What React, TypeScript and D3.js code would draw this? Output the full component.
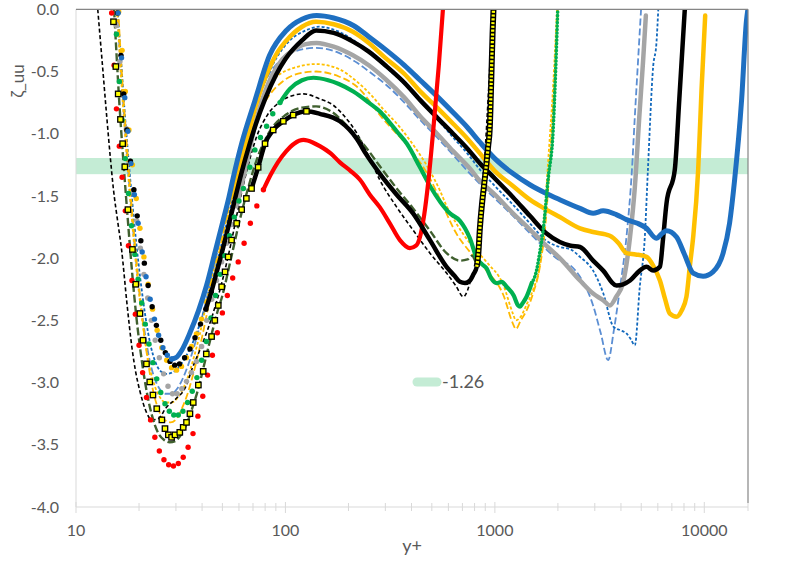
import React from "react";
import * as d3 from "d3";

type P = [number, number];

// ---- axis / label data ----
const yTickValues = [0, -0.5, -1, -1.5, -2, -2.5, -3, -3.5, -4];
const yTickLabels = ["0.0", "-0.5", "-1.0", "-1.5", "-2.0", "-2.5", "-3.0", "-3.5", "-4.0"];
const xMajorTicks = [10, 100, 1000, 10000];
const xTickLabels = ["10", "100", "1000", "10000"];
const bandValue = -1.26;
const bandHalfWidth = 0.065;
const legendLabel = "-1.26";
const xTitle = "y+";
const yTitle = "ζ_uu";

// ---- thick (dense-marker) series ----
const blueThick: P[] = [[15.9,-0.03],[16.5,-0.39],[17.1,-0.71],[17.7,-0.98],[18.3,-1.24],[19.0,-1.49],[19.8,-1.72],[20.7,-1.95],[21.6,-2.15],[22.6,-2.33],[23.7,-2.49],[24.8,-2.62],[26.0,-2.72],[27.3,-2.78],[28.6,-2.81],[30,-2.80],[32,-2.74],[35,-2.60],[38.5,-2.42],[42,-2.22],[46,-1.96],[50,-1.72],[53.4,-1.53],[56.4,-1.35],[62,-1.07],[71.6,-0.73],[84,-0.37],[101,-0.17],[120,-0.08],[141,-0.05],[170,-0.07],[211,-0.13],[250,-0.22],[304,-0.33],[370,-0.45],[440,-0.57],[530,-0.70],[632,-0.83],[740,-0.95],[850,-1.07],[1000,-1.20],[1220,-1.32],[1470,-1.41],[1760,-1.48],[2042,-1.53],[2550,-1.60],[2945,-1.64],[3290,-1.62],[3800,-1.65],[4250,-1.69],[4800,-1.72],[5300,-1.76],[5900,-1.84],[6300,-1.80],[6600,-1.78],[7370,-1.83],[8000,-1.96],[8850,-2.12],[9870,-2.145],[11000,-2.11],[12300,-1.96],[13200,-1.72],[13960,-1.37],[15070,-0.73],[15900,-0.09],[16150,0]];

const orangeThick: P[] = [[16.0,-0.02],[16.6,-0.33],[17.2,-0.66],[17.9,-0.97],[18.6,-1.25],[19.4,-1.52],[20.2,-1.76],[21.1,-1.99],[22.1,-2.21],[23.2,-2.41],[24.4,-2.58],[25.7,-2.72],[27.1,-2.82],[28.6,-2.88],[30.2,-2.90],[31.9,-2.87],[33.7,-2.80],[35.6,-2.71],[37.6,-2.61],[39.7,-2.49],[42,-2.35],[44.4,-2.19],[47,-2.02],[50,-1.84],[53,-1.67],[56,-1.50],[59,-1.33],[62,-1.20],[67,-0.98],[72,-0.78],[78,-0.60],[85,-0.45],[92,-0.34],[100,-0.26],[120,-0.14],[140,-0.10],[170,-0.12],[210,-0.18],[250,-0.27],[300,-0.39],[370,-0.52],[440,-0.66],[530,-0.79],[632,-0.92],[740,-1.04],[850,-1.16],[1000,-1.30],[1220,-1.42],[1470,-1.53],[1760,-1.61],[2042,-1.67],[2550,-1.76],[2945,-1.79],[3540,-1.82],[3900,-1.88],[4250,-1.96],[4700,-1.97],[5300,-1.99],[5700,-2.06],[6140,-2.18],[6500,-2.33],[6840,-2.445],[7370,-2.47],[7800,-2.42],[8220,-2.31],[8550,-2.05],[8850,-1.83],[9350,-1.29],[9700,-0.65],[10100,-0.05]];

const blackThick: P[] = [[15.8,-0.03],[16.4,-0.37],[16.9,-0.68],[17.5,-0.97],[18.2,-1.22],[18.9,-1.45],[19.6,-1.66],[20.4,-1.86],[21.2,-2.04],[22.1,-2.22],[23.1,-2.39],[24.2,-2.54],[25.4,-2.66],[26.7,-2.76],[28.1,-2.83],[29.6,-2.86],[31.2,-2.85],[33,-2.80],[35,-2.73],[37,-2.64],[39.3,-2.53],[41.7,-2.41],[44.3,-2.27],[47,-2.11],[50,-1.94],[53,-1.77],[56,-1.60],[62,-1.30],[67,-1.10],[72,-0.93],[80,-0.72],[90,-0.53],[100,-0.40],[120,-0.25],[140,-0.17],[170,-0.19],[210,-0.26],[250,-0.34],[300,-0.45],[370,-0.59],[440,-0.73],[530,-0.87],[632,-1.00],[740,-1.12],[850,-1.24],[1000,-1.36],[1220,-1.51],[1470,-1.66],[1760,-1.80],[2042,-1.87],[2300,-1.90],[2550,-1.91],[2945,-2.02],[3290,-2.10],[3810,-2.22],[4100,-2.21],[4420,-2.18],[4920,-2.10],[5300,-2.07],[5700,-2.10],[6140,-2.07],[6350,-1.85],[6600,-1.56],[7230,-1.29],[7600,-0.72],[8070,0]];

const greyThick: P[] = [[15.6,-0.13],[16.2,-0.42],[16.8,-0.69],[17.4,-0.96],[18.1,-1.22],[18.8,-1.47],[19.5,-1.70],[20.3,-1.92],[21.1,-2.13],[22.0,-2.32],[22.9,-2.50],[23.9,-2.66],[25.0,-2.80],[26.2,-2.93],[27.5,-3.03],[28.9,-3.09],[30.4,-3.09],[32.0,-3.05],[33.7,-2.99],[35.6,-2.92],[37.6,-2.83],[39.8,-2.71],[42.1,-2.50],[44.5,-2.33],[46.9,-2.18],[49.6,-2.03],[52.4,-1.88],[55.4,-1.73],[58.5,-1.58],[62,-1.40],[65,-1.25],[69,-1.05],[73,-0.87],[80,-0.66],[87,-0.52],[97,-0.40],[108.7,-0.33],[125,-0.28],[141,-0.27],[170,-0.30],[210,-0.37],[250,-0.45],[300,-0.56],[370,-0.71],[440,-0.86],[530,-1.00],[632,-1.14],[760,-1.28],[850,-1.38],[1000,-1.49],[1220,-1.64],[1470,-1.77],[1760,-1.90],[2042,-2.00],[2550,-2.18],[2945,-2.285],[3300,-2.34],[3540,-2.38],[3800,-2.31],[4090,-2.20],[4250,-2.05],[4420,-1.83],[4660,-1.43],[4900,-0.85],[5100,-0.42],[5260,-0.05]];

const greenThick: P[] = [[15.6,-0.20],[16.1,-0.58],[16.6,-0.89],[17.2,-1.20],[17.8,-1.48],[18.4,-1.74],[19.1,-1.97],[19.8,-2.17],[20.6,-2.36],[21.4,-2.53],[22.3,-2.69],[23.3,-2.84],[24.3,-2.97],[25.4,-3.08],[26.6,-3.17],[27.9,-3.23],[29.3,-3.26],[30.8,-3.26],[32.4,-3.23],[34.1,-3.16],[35.9,-3.07],[37.8,-2.96],[39.8,-2.82],[41.9,-2.67],[44.1,-2.48],[46.4,-2.30],[48.8,-2.13],[51.4,-1.98],[54.1,-1.82],[57,-1.67],[60,-1.54],[63,-1.44],[67.6,-1.27],[71.5,-1.13],[76,-1.03],[81.3,-0.94],[87,-0.84],[94.2,-0.75],[105,-0.64],[120,-0.57],[136,-0.55],[160,-0.57],[180,-0.60],[211,-0.66],[250,-0.75],[282,-0.82],[304,-0.88],[340,-0.98],[380,-1.08],[439,-1.27],[490,-1.42],[550,-1.55],[610,-1.64],[681,-1.70],[720,-1.76],[760,-1.84],[819,-2.00],[870,-2.05],[912,-2.08],[960,-2.16],[1019,-2.20],[1080,-2.19],[1137,-2.23],[1230,-2.30],[1290,-2.38],[1319,-2.39],[1360,-2.36],[1417,-2.31],[1500,-2.20],[1581,-2.10],[1640,-1.95],[1701,-1.775],[1800,-1.35],[1898,-0.97],[1950,-0.5],[1996,0]];

const redThick: P[] = [[14.8,-0.03],[15.2,-0.45],[15.6,-0.80],[16.1,-1.10],[16.6,-1.35],[17.2,-1.62],[17.8,-1.90],[18.5,-2.18],[19.2,-2.45],[20.0,-2.70],[20.8,-2.92],[21.7,-3.12],[22.7,-3.30],[23.8,-3.44],[25.0,-3.55],[26.3,-3.62],[27.7,-3.66],[29.2,-3.67],[30.8,-3.65],[32.5,-3.60],[34.3,-3.52],[36.2,-3.41],[38.2,-3.27],[40.3,-3.11],[42.5,-2.94],[44.8,-2.78],[47.3,-2.60],[50,-2.44],[52.8,-2.30],[56,-2.16],[59.5,-2.03],[63.5,-1.88],[68,-1.72],[73,-1.58],[78.5,-1.45],[85,-1.33],[92,-1.23],[101,-1.14],[110,-1.08],[122,-1.05],[135,-1.07],[146,-1.10],[165,-1.16],[182,-1.23],[205,-1.30],[227,-1.37],[253,-1.49],[282,-1.59],[315,-1.72],[352,-1.855],[393,-1.92],[420,-1.90],[439,-1.83],[460,-1.65],[480,-1.40],[508,-0.97],[540,-0.45],[565,0]];

// black line with yellow square markers
const squareSeries: P[] = [[15.1,-0.10],[15.5,-0.46],[15.9,-0.68],[16.3,-0.885],[16.7,-1.08],[17.1,-1.266],[17.7,-1.61],[18.6,-1.93],[19.3,-2.21],[20.2,-2.445],[20.9,-2.66],[21.7,-2.85],[22.5,-2.995],[23.3,-3.10],[24.3,-3.21],[25.7,-3.30],[26.6,-3.37],[27.6,-3.42],[28.6,-3.44],[29.7,-3.42],[31.3,-3.40],[32.5,-3.36],[33.7,-3.32],[35,-3.25],[36.3,-3.16],[38.4,-3.02],[40.5,-2.91],[41.9,-2.77],[44.4,-2.63],[46,-2.50],[47.8,-2.38],[49.6,-2.23],[51.5,-2.11],[53.3,-1.99],[55.3,-1.855],[58.5,-1.72],[61.8,-1.61],[65.1,-1.52],[68.9,-1.44],[74.1,-1.27],[79.9,-1.08],[87.4,-0.97],[97.7,-0.90],[108.9,-0.85],[126,-0.82],[146,-0.84],[182,-0.90],[219,-1.04],[244,-1.17],[282,-1.32],[340,-1.49],[407,-1.64],[490,-1.855],[588,-2.07],[640,-2.14],[681,-2.19],[720,-2.20],[760,-2.18],[790,-2.13],[819,-2.07],[835,-1.95],[847,-1.775],[870,-1.55],[890,-1.40],[912,-1.24],[929,-1.10],[946,-0.95],[962,-0.55],[975,-0.2],[985,0]];

// ---- thin dashed series ----
const blackDash: P[] = [[12.7,0],[13.3,-0.40],[14.0,-0.85],[14.6,-1.20],[15.1,-1.45],[15.8,-1.70],[16.5,-1.93],[17.5,-2.36],[18.5,-2.72],[19.3,-2.92],[20.2,-3.07],[21.7,-3.24],[23,-3.30],[24.7,-3.29],[27,-3.20],[30,-3.13],[33.5,-3.03],[36,-2.88],[39,-2.74],[42,-2.60],[45,-2.45],[50,-2.18],[55,-1.88],[60,-1.57],[66,-1.27],[73,-1.02],[82,-0.85],[95,-0.74],[110,-0.69],[122,-0.68],[146,-0.72],[169,-0.77],[189,-0.85],[220,-1.0],[250,-1.18],[282,-1.37],[340,-1.59],[407,-1.775],[490,-1.96],[588,-2.12],[650,-2.22],[708,-2.31],[740,-2.26],[760,-2.20],[819,-2.02],[870,-1.5],[930,-0.7],[975,0]];

const oliveDash: P[] = [[15.2,0],[15.6,-0.35],[16.1,-0.75],[16.8,-1.20],[17.6,-1.65],[18.5,-2.10],[19.5,-2.50],[20.6,-2.82],[21.8,-3.08],[23.1,-3.27],[24.6,-3.40],[26.3,-3.46],[28,-3.48],[29.8,-3.47],[31.7,-3.42],[33.8,-3.33],[36,-3.20],[38.5,-3.04],[41,-2.85],[44,-2.64],[47,-2.45],[50,-2.30],[55,-2.00],[60,-1.72],[66,-1.45],[74,-1.18],[85,-0.97],[100,-0.85],[120,-0.79],[140,-0.78],[165,-0.82],[200,-0.95],[240,-1.10],[282,-1.26],[340,-1.44],[407,-1.60],[490,-1.78],[588,-1.96],[681,-2.02],[740,-2.01],[780,-1.98],[819,-2.04],[850,-1.95]];

const orangeDashShort: P[] = [[15.7,0],[16.2,-0.40],[16.8,-0.80],[17.5,-1.20],[18.3,-1.60],[19.2,-2.00],[20.2,-2.35],[21.3,-2.65],[22.5,-2.88],[23.8,-3.03],[25.2,-3.12],[26.8,-3.16],[28.5,-3.16],[30.3,-3.13],[32.2,-3.06],[34.3,-2.95],[36.5,-2.80],[38.9,-2.62],[41.5,-2.40],[44.3,-2.17],[47.3,-1.93],[50.5,-1.70],[54,-1.47],[58,-1.25],[63,-1.02],[69,-0.84],[78,-0.70],[90,-0.55],[110,-0.47],[140,-0.44],[180,-0.48],[219,-0.58],[260,-0.70],[292,-0.80],[353,-0.95],[392,-1.05],[424,-1.13],[490,-1.30],[548,-1.46],[588,-1.58],[654,-1.72],[760,-1.88],[912,-2.03],[1100,-2.22],[1222,-2.45],[1260,-2.50],[1330,-2.47],[1420,-2.37],[1525,-2.25],[1640,-2.05],[1700,-1.80],[1800,-1.20],[1900,-0.60],[1980,0]];

const orangeDashLong: P[] = [[15.9,0],[16.4,-0.40],[17.0,-0.80],[17.8,-1.25],[18.7,-1.70],[19.7,-2.12],[20.8,-2.50],[22.0,-2.82],[23.3,-3.06],[24.8,-3.22],[26.5,-3.30],[28.3,-3.32],[30.2,-3.29],[32.2,-3.20],[34.4,-3.07],[36.7,-2.90],[39.2,-2.70],[41.9,-2.47],[44.8,-2.22],[48,-1.97],[51.5,-1.73],[55.5,-1.50],[60,-1.28],[66,-1.06],[73,-0.87],[83,-0.70],[97,-0.58],[120,-0.51],[140,-0.50],[180,-0.54],[219,-0.62],[292,-0.88],[392,-1.12],[490,-1.36],[548,-1.53],[654,-1.80],[760,-1.95],[912,-2.10],[1100,-2.30],[1222,-2.53],[1260,-2.57],[1330,-2.50],[1418,-2.42],[1525,-2.28],[1640,-2.07],[1750,-1.70],[1850,-1.10],[1950,-0.40],[2000,0]];

const blueDashShort: P[] = [[15.8,0],[16.4,-0.40],[17.0,-0.78],[17.7,-1.15],[18.5,-1.52],[19.4,-1.88],[20.4,-2.20],[21.5,-2.48],[22.7,-2.70],[24.0,-2.84],[25.4,-2.91],[27,-2.93],[28.7,-2.92],[30.5,-2.89],[32.4,-2.83],[34.5,-2.75],[36.7,-2.65],[39,-2.53],[41.5,-2.39],[44.2,-2.22],[47.1,-2.04],[50.2,-1.85],[53.5,-1.66],[57,-1.46],[61,-1.24],[66,-1.02],[72,-0.80],[80,-0.58],[90,-0.40],[105,-0.25],[125,-0.17],[145,-0.14],[180,-0.18],[220,-0.27],[260,-0.37],[304,-0.47],[370,-0.60],[440,-0.73],[530,-0.88],[632,-1.03],[740,-1.16],[850,-1.29],[1000,-1.42],[1220,-1.57],[1470,-1.72],[1760,-1.86],[2042,-1.91],[2300,-1.93],[2550,-1.99],[2945,-2.10],[3290,-2.28],[3680,-2.55],[3980,-2.58],[4250,-2.605],[4450,-2.65],[4660,-2.70],[4920,-2.23],[5200,-1.83],[5380,-1.29],[5700,-0.46],[5910,-0.27],[6030,0]];

const blueDashLong: P[] = [[15.7,0],[16.3,-0.42],[16.9,-0.82],[17.6,-1.22],[18.4,-1.62],[19.3,-2.00],[20.3,-2.34],[21.4,-2.62],[22.6,-2.84],[23.9,-2.98],[25.3,-3.06],[26.9,-3.09],[28.6,-3.09],[30.4,-3.05],[32.3,-2.97],[34.3,-2.86],[36.5,-2.72],[38.8,-2.56],[41.3,-2.38],[44,-2.18],[47,-1.97],[50.2,-1.76],[53.7,-1.55],[57.5,-1.34],[62,-1.13],[67,-0.93],[73,-0.74],[81,-0.56],[92,-0.43],[110,-0.34],[140,-0.31],[180,-0.35],[220,-0.43],[260,-0.52],[304,-0.61],[370,-0.75],[440,-0.89],[530,-1.03],[632,-1.17],[760,-1.32],[1000,-1.52],[1220,-1.66],[1470,-1.80],[1760,-1.93],[2042,-2.02],[2300,-2.06],[2550,-2.15],[2945,-2.38],[3200,-2.60],[3475,-2.82],[3700,-2.58],[3950,-2.25],[4250,-1.83],[4510,-1.30],[4660,-0.86],[4810,-0.46],[4990,0]];

const W = 789;
const H = 568;
const PLOT = { left: 76, right: 748, top: 9.3, bottom: 507 };
const FONT = "Lato, 'Open Sans', 'DejaVu Sans', sans-serif";
const TEXT = "#595959";

export default function App() {
  const x = d3.scaleLog().domain([10, 16170]).range([PLOT.left, PLOT.right]);
  const y = d3.scaleLinear().domain([-4, 0]).range([PLOT.bottom, PLOT.top]);
  const line = d3
    .line<P>()
    .x((d) => x(d[0]))
    .y((d) => y(d[1]))
    .curve(d3.curveMonotoneX);

  const minorTicks = x.ticks().filter((t) => t <= 16170);

  const thick = [
    { key: "grey", data: greyThick, color: "#A5A5A5", w: 4.5, dotsBefore: 62, lineFrom: 58.5 },
    { key: "orange", data: orangeThick, color: "#FFC000", w: 4.5, dotsBefore: 59, lineFrom: 56 },
    { key: "black", data: blackThick, color: "#000000", w: 4.5, dotsBefore: 45, lineFrom: 41.7 },
    { key: "blue", data: blueThick, color: "#1E6FC1", w: 5, dotsBefore: 30, lineFrom: 28.6 },
    { key: "green", data: greenThick, color: "#00B050", w: 4.2, dotsBefore: 100, lineFrom: 94.2, tailFrom: 1500 },
    { key: "red", data: redThick, color: "#FF0000", w: 4.2, dotsBefore: 85, lineFrom: 78.5 },
  ];

  const dashed = [
    { key: "bl", data: blueDashLong, color: "#5B8ED3", w: 1.8, dash: "7,3" },
    { key: "bs", data: blueDashShort, color: "#1168BC", w: 1.8, dash: "3,2" },
    { key: "os", data: orangeDashShort, color: "#FFC000", w: 1.8, dash: "3,2" },
    { key: "ol", data: orangeDashLong, color: "#FFB900", w: 1.8, dash: "7,3" },
    { key: "k", data: blackDash, color: "#000000", w: 1.6, dash: "4,2.5" },
    { key: "g", data: oliveDash, color: "#40602F", w: 2.4, dash: "8,3" },
  ];

  const sqHead = squareSeries.filter((d) => d[0] < 140);
  const sqBody = squareSeries.filter((d) => d[0] >= 68.9 && d[0] <= 835);
  const sqTail = squareSeries.filter((d) => d[0] >= 819);

  return (
    <svg
      width={W}
      height={H}
      viewBox={`0 0 ${W} ${H}`}
      style={{ position: "absolute", left: 0, top: 0, background: "#fff" }}
      fontFamily={FONT}
    >
      <defs>
        <clipPath id="plotClip">
          <rect x={PLOT.left} y={PLOT.top} width={PLOT.right - PLOT.left} height={PLOT.bottom - PLOT.top} />
        </clipPath>
      </defs>
      <rect x={0} y={0} width={W} height={H} fill="#fff" />

      {/* band */}
      <rect
        x={PLOT.left}
        y={y(bandValue + bandHalfWidth)}
        width={PLOT.right - PLOT.left}
        height={y(bandValue - bandHalfWidth) - y(bandValue + bandHalfWidth)}
        fill="#C4ECD5"
      />

      {/* axes frame */}
      <line x1={PLOT.left} x2={PLOT.left} y1={PLOT.top} y2={PLOT.bottom} stroke="#D9D9D9" strokeWidth={1} />
      <line x1={PLOT.left} x2={PLOT.right} y1={PLOT.bottom} y2={PLOT.bottom} stroke="#D9D9D9" strokeWidth={1.2} />
      {minorTicks.map((t) => {
        const major = xMajorTicks.includes(t);
        return (
          <line
            key={"t" + t}
            x1={x(t)}
            x2={x(t)}
            y1={PLOT.bottom - (major ? 5 : 4)}
            y2={PLOT.bottom + (major ? 6 : 4)}
            stroke="#D9D9D9"
            strokeWidth={1}
          />
        );
      })}
      <line x1={PLOT.right} x2={PLOT.right} y1={PLOT.bottom - 4} y2={PLOT.bottom + 4} stroke="#D9D9D9" strokeWidth={1} />

      {/* y tick labels */}
      {yTickValues.map((v, i) => (
        <text key={"y" + i} x={59} y={y(v)} dy="0.35em" textAnchor="end" fontSize={16} fill={TEXT}>
          {yTickLabels[i]}
        </text>
      ))}
      {/* x tick labels */}
      {xMajorTicks.map((v, i) => (
        <text key={"x" + i} x={x(v)} y={536} textAnchor="middle" fontSize={16} fill={TEXT}>
          {xTickLabels[i]}
        </text>
      ))}
      <text x={(PLOT.left + PLOT.right) / 2} y={552} textAnchor="middle" fontSize={18} fill={TEXT}>
        {xTitle}
      </text>
      <text transform="translate(24,81) rotate(-90)" textAnchor="middle" fontSize={17} fill={TEXT}>
        {yTitle}
      </text>

      <g clipPath="url(#plotClip)">
        {dashed.map((s) => (
          <path
            key={s.key}
            d={line(s.data) || ""}
            fill="none"
            stroke={s.color}
            strokeWidth={s.w}
            strokeDasharray={s.dash}
          />
        ))}

        {thick.map((s) => {
          const main = s.data.filter((d) => d[0] >= s.lineFrom && (s.tailFrom === undefined || d[0] <= s.tailFrom));
          const tail = s.tailFrom !== undefined ? s.data.filter((d) => d[0] >= s.tailFrom!) : [];
          const dots = s.data.filter((d) => d[0] < s.dotsBefore);
          return (
            <g key={s.key}>
              <path d={line(main) || ""} fill="none" stroke={s.color} strokeWidth={s.w} strokeLinejoin="round" strokeLinecap="round" />
              {tail.length > 0 && (
                <path
                  d={line(tail) || ""}
                  fill="none"
                  stroke={s.color}
                  strokeWidth={3.6}
                  strokeDasharray="0.1,3.4"
                  strokeLinecap="round"
                />
              )}
              {dots.map((d, i) => (
                <circle key={i} cx={x(d[0])} cy={y(d[1])} r={2.7} fill={s.color} />
              ))}
            </g>
          );
        })}

        {/* black line with yellow squares */}
        <path d={line(sqBody) || ""} fill="none" stroke="#000" strokeWidth={4.5} strokeLinejoin="round" />
        <path d={line(sqTail) || ""} fill="none" stroke="#000" strokeWidth={6} />
        <path d={line(sqTail) || ""} fill="none" stroke="#FFFF00" strokeWidth={3.2} strokeDasharray="2.2,1.6" />
        {sqHead.map((d, i) => (
          <rect
            key={"sq" + i}
            x={x(d[0]) - 2.7}
            y={y(d[1]) - 2.7}
            width={5.4}
            height={5.4}
            fill="#FFFF00"
            stroke="#000"
            strokeWidth={1.3}
          />
        ))}
      </g>

      {/* frame: top and right */}
      <line x1={PLOT.left} x2={PLOT.right} y1={PLOT.top} y2={PLOT.top} stroke="#858585" strokeWidth={1.2} />
      <line x1={PLOT.right} x2={PLOT.right} y1={PLOT.top} y2={PLOT.bottom - 4} stroke="#858585" strokeWidth={1.2} />

      {/* legend */}
      <line x1={417} x2={437} y1={382} y2={382} stroke="#C4ECD5" strokeWidth={9} strokeLinecap="round" />
      <text x={442} y={382} dy="0.36em" fontSize={18} fill={TEXT}>
        {legendLabel}
      </text>
    </svg>
  );
}
